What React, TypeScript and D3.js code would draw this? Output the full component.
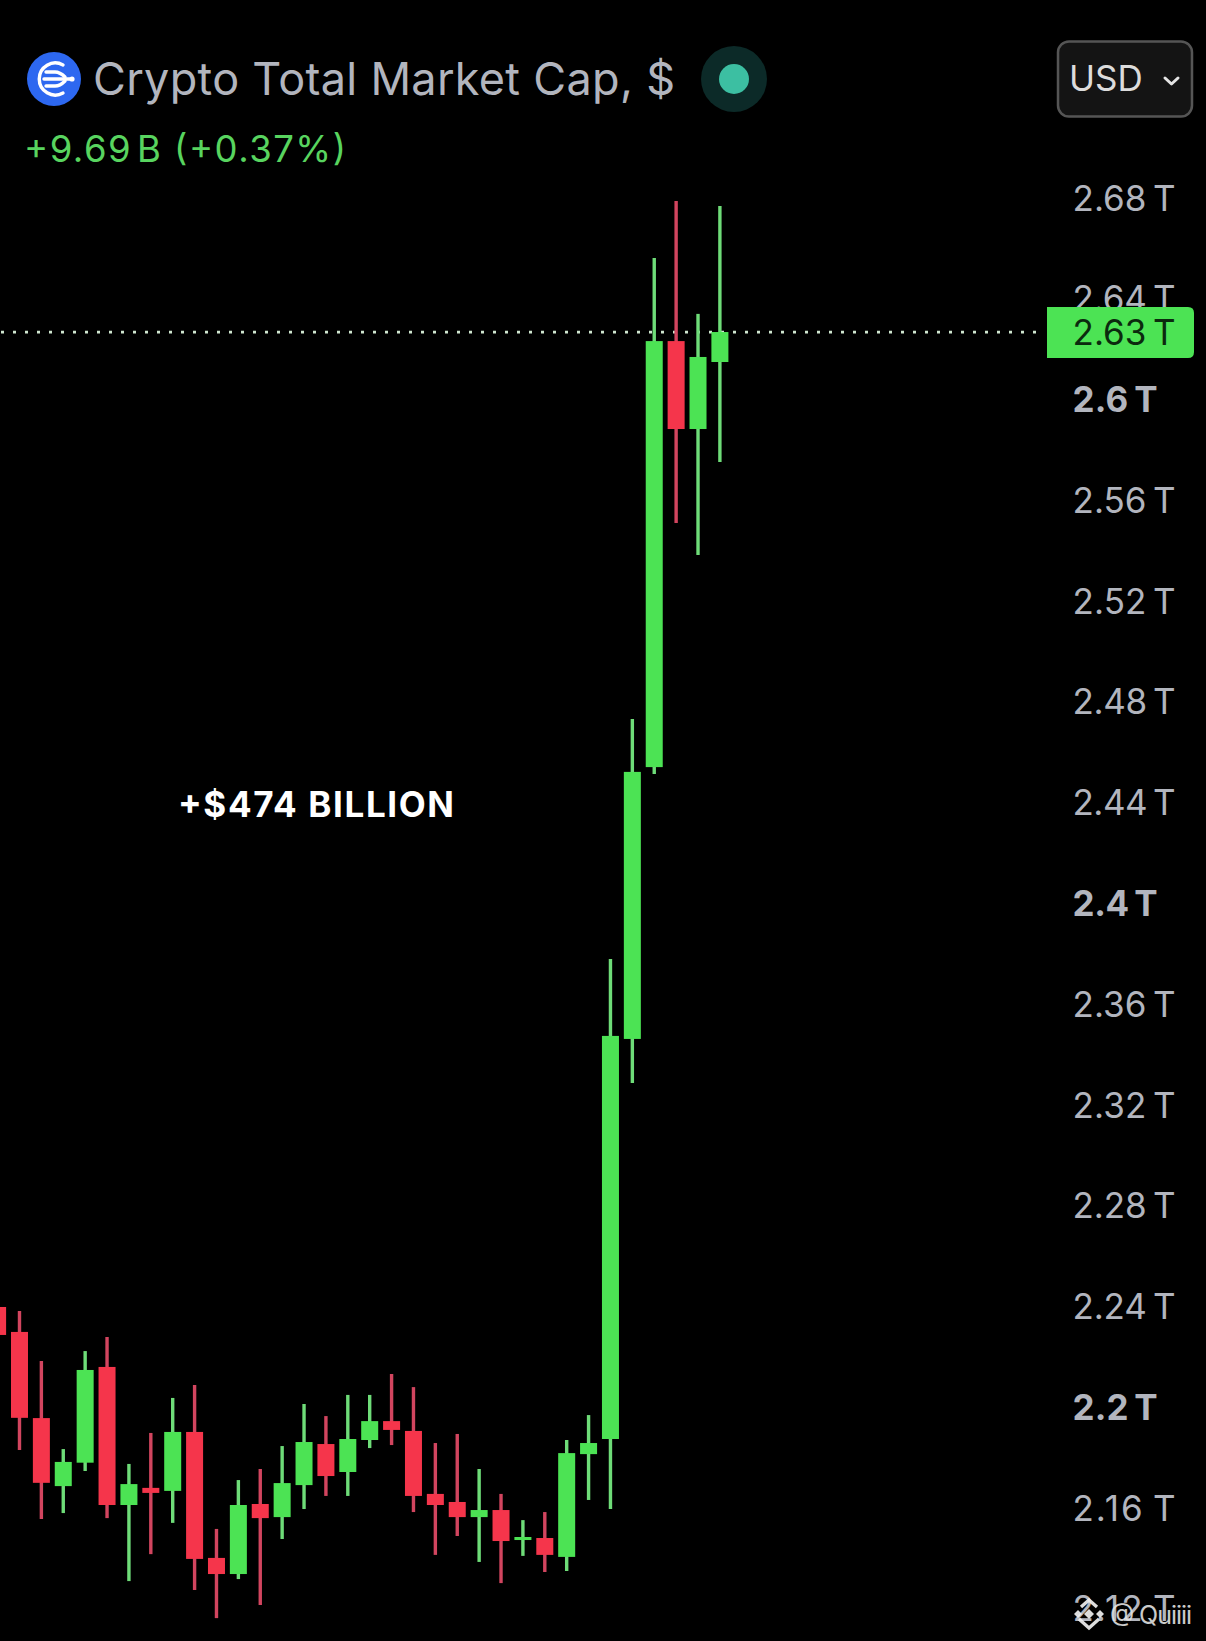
import React from "react";
import * as d3 from "d3";

// Values in billions of USD, candle by candle (34 candles)
const opens = [2239.8, 2229.9, 2195.7, 2168.7, 2178.0, 2216.0, 2161.2, 2168.0, 2166.8, 2190.2, 2140.2, 2133.8, 2161.6, 2156.4, 2169.1, 2185.4, 2174.3, 2187.0, 2194.5, 2190.6, 2165.6, 2162.4, 2156.4, 2159.2, 2147.3, 2148.1, 2140.6, 2181.4, 2187.4, 2346.2, 2454.1, 2623.2, 2588.3, 2614.9];
const highs = [2239.8, 2238.2, 2218.4, 2183.4, 2222.3, 2227.9, 2177.5, 2189.8, 2203.7, 2208.8, 2151.7, 2171.1, 2175.5, 2184.6, 2201.3, 2196.5, 2204.9, 2204.9, 2213.2, 2208.0, 2185.8, 2189.4, 2175.5, 2165.6, 2155.2, 2158.4, 2187.0, 2196.9, 2377.9, 2473.2, 2656.2, 2678.8, 2634.0, 2676.8];
const lows = [2228.7, 2183.0, 2155.6, 2158.0, 2174.7, 2156.0, 2131.0, 2141.7, 2154.1, 2127.5, 2116.3, 2131.8, 2121.5, 2147.7, 2159.6, 2164.8, 2164.8, 2183.8, 2185.0, 2158.4, 2141.4, 2148.9, 2138.6, 2130.2, 2141.0, 2134.6, 2135.0, 2163.2, 2159.6, 2328.7, 2451.4, 2551.0, 2538.3, 2575.2];
const closes = [2228.7, 2195.8, 2170.0, 2178.3, 2214.8, 2161.2, 2169.5, 2166.0, 2190.2, 2139.8, 2133.8, 2161.2, 2156.0, 2169.9, 2186.2, 2172.7, 2187.4, 2194.5, 2191.0, 2164.8, 2161.2, 2156.4, 2159.2, 2146.9, 2148.5, 2141.4, 2181.8, 2185.8, 2347.4, 2452.2, 2623.2, 2588.3, 2616.9, 2626.8];

const tickValues = [2680, 2640, 2600, 2560, 2520, 2480, 2440, 2400, 2360, 2320, 2280, 2240, 2200, 2160, 2120];
const tickLabels = ["2.68\u2009T", "2.64\u2009T", "2.6\u2009T", "2.56\u2009T", "2.52\u2009T", "2.48\u2009T", "2.44\u2009T", "2.4\u2009T", "2.36\u2009T", "2.32\u2009T", "2.28\u2009T", "2.24\u2009T", "2.2\u2009T", "2.16\u2009T", "2.12\u2009T"];
const boldTicks = [2600, 2400, 2200];
const lastPrice = 2626.8;
const lastPriceLabel = "2.63\u2009T";

const FONT = "Inter, 'Noto Sans', sans-serif";
const GREEN = "#4ce354";
const RED = "#f5354b";
const WICK_GREEN = "#6edc78";
const WICK_RED = "#d2455f";

export default function App() {
  const W = 1206;
  const H = 1641;
  const y = d3.scaleLinear().domain([2680, 2120]).range([198, 1608.8]);
  const x = d3.scaleLinear().domain([0, opens.length - 1]).range([-2.4, 719.9]);
  const bodyW = 17;
  const wickW = 3.4;
  const lastY = y(lastPrice);

  return (
    <svg
      width={W}
      height={H}
      viewBox={`0 0 ${W} ${H}`}
      style={{ position: "absolute", left: 0, top: 0, display: "block", background: "#000" }}
      fontFamily={FONT}
    >
      <rect width={W} height={H} fill="#000" />

      {/* header */}
      <circle cx={54} cy={79} r={27} fill="#2d68f0" />
      <g fill="none" stroke="#fff" strokeWidth={3.4} strokeLinecap="round">
        <path d="M 63 65 A 16 16 0 1 0 63 93" />
        <path d="M 46 72 L 55 72 Q 60 72 65 77" />
        <path d="M 44 79 L 70 79" />
        <path d="M 46 86 L 55 86 Q 60 86 65 81" />
      </g>
      <circle cx={72} cy={79} r={2.6} fill="#fff" />
      <text x={93} y={95} fontSize={45} fill="#b2b5be" textLength={582}>Crypto Total Market Cap, $</text>
      <circle cx={734} cy={79} r={33} fill="#0c2a28" />
      <circle cx={734} cy={79} r={15} fill="#3cbfa2" />
      <text x={24} y={162} fontSize={36.5} fill="#58d45f" textLength={322}>+9.69{"\u200A"}B (+0.37%)</text>

      {/* currency button */}
      <rect x={1058} y={41.5} width={134} height={75} rx={11} fill="#141414" stroke="#555" strokeWidth={2.5} />
      <text x={1069} y={91} fontSize={35} fill="#dcdcdc">USD</text>
      <path d="M 1165 78 L 1171.5 84 L 1178 78" fill="none" stroke="#e4e4e4" strokeWidth={3} strokeLinecap="round" strokeLinejoin="round" />

      {/* axis labels */}
      {tickValues.map((v, i) => {
        const bold = boldTicks.includes(v);
        return (
          <text
            key={v}
            x={1072.5}
            y={y(v)}
            dy="0.36em"
            fontSize={35}
            fontWeight={bold ? 700 : 400}
            fill="#b2b5be"
            textLength={bold ? 85 : 103}
          >
            {tickLabels[i]}
          </text>
        );
      })}

      {/* last price line */}
      <line x1={1} x2={1036} y1={lastY} y2={lastY} stroke="#cfe6cf" strokeWidth={2.8} strokeDasharray="3 9" />

      {/* candles */}
      {opens.map((o, i) => {
        const c = closes[i];
        const up = c >= o;
        const top = y(Math.max(o, c));
        const bottom = y(Math.min(o, c));
        return (
          <g key={i}>
            <line x1={x(i)} x2={x(i)} y1={y(highs[i])} y2={y(lows[i])} stroke={up ? WICK_GREEN : WICK_RED} strokeWidth={wickW} />
            <rect x={x(i) - bodyW / 2} y={top} width={bodyW} height={bottom - top} fill={up ? GREEN : RED} />
          </g>
        );
      })}

      {/* annotation */}
      <text x={178} y={817} fontSize={35} fontWeight={700} fill="#fff" textLength={276}>+$474 BILLION</text>

      {/* last price tag */}
      <path d="M 1047 307 L 1188 307 Q 1194 307 1194 313 L 1194 352 Q 1194 358 1188 358 L 1047 358 Z" fill={GREEN} />
      <text x={1072.5} y={lastY} dy="0.36em" fontSize={35} fill="#0b2a0e" textLength={103}>{lastPriceLabel}</text>

      {/* watermark */}
      <g fill="none" stroke="#f0f0f0" strokeWidth={3.4} opacity={0.92}>
        <path d="M 1081 1607 L 1089 1600 L 1097 1607" />
        <path d="M 1079 1619 L 1089 1628 L 1099 1619" />
      </g>
      <g fill="#f0f0f0" opacity={0.92}>
        <path d="M 1089 1609 L 1094 1614 L 1089 1619 L 1084 1614 Z" />
        <path d="M 1078 1610 L 1082 1614 L 1078 1618 L 1074 1614 Z" />
        <path d="M 1100 1610 L 1104 1614 L 1100 1618 L 1096 1614 Z" />
      </g>
      <text x={1110} y={1624} fontSize={25} fill="#e2e2e2" opacity={0.9} textLength={82}>@ Quiiii</text>
    </svg>
  );
}
